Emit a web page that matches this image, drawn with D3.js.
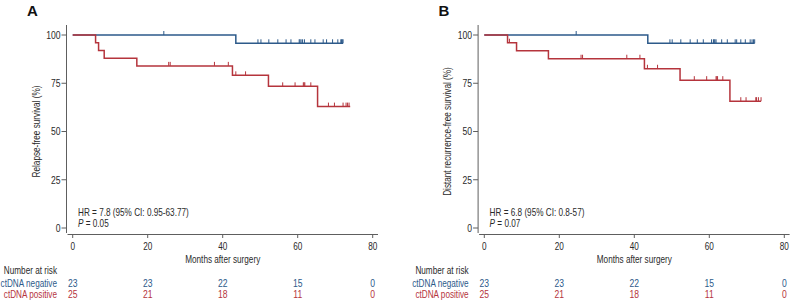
<!DOCTYPE html>
<html>
<head>
<meta charset="utf-8">
<script src="https://cdn.jsdelivr.net/npm/d3@7"></script>
<style>
  body { margin: 0; background: #fff; }
  text { font-family: "Liberation Sans Narrow", "Arial Narrow", "Liberation Sans", Arial, sans-serif; fill: #2a2a2a; }
</style>
</head>
<body>
<svg id="chart" width="791" height="300"></svg>
<script>
// ---- data ----
var monthTicks = [0, 20, 40, 60, 80];
var survTicks = [0, 25, 50, 75, 100];
var groups = ["ctDNA negative", "ctDNA positive"];

// number at risk (same table under both panels)
var riskTimes = [0, 20, 40, 60, 80];
var negRisk = [23, 23, 22, 15, 0];
var posRisk = [25, 21, 18, 11, 0];

// A: relapse-free survival, step points (month, %) and censor times
var rfsNegTime = [0, 43.5, 72.1];
var rfsNegSurv = [100, 95.7, 95.7];
var rfsNegCensor = [24.3, 49.4, 50.2, 52.3, 54.7, 56.9, 58.2, 60.4, 60.6, 60.9, 61.3, 61.8,
                    63.5, 64.6, 66.8, 67.7, 69.3, 70.7, 71.5, 71.7, 71.9, 72.1];
var rfsPosTime = [0, 6.1, 6.9, 8.4, 17.1, 42.6, 52.2, 65.3, 74.0];
var rfsPosSurv = [100, 96, 92, 88, 84, 79.1, 73.4, 62.9, 62.9];
var rfsPosCensor = [25.6, 26.0, 37.8, 41.5, 43.5, 46.1, 56.0, 59.3, 61.5, 61.7, 61.9, 63.5,
                    68.2, 69.8, 72.1, 72.9, 73.3, 73.7];

// B: distant recurrence-free survival
var drfsNegTime = [0, 43.6, 72.1];
var drfsNegSurv = [100, 95.7, 95.7];
var drfsNegCensor = [24.5, 49.5, 50.1, 52.4, 54.9, 56.8, 58.4, 60.6, 61.1, 61.3, 61.5, 61.8,
                     63.3, 64.8, 66.9, 67.3, 68.4, 69.6, 70.9, 71.4, 71.8, 72.1];
var drfsPosTime = [0, 6.2, 8.6, 17.1, 42.7, 52.2, 65.5, 73.8];
var drfsPosSurv = [100, 96, 91.8, 87.7, 82.5, 76.6, 65.7, 65.7];
var drfsPosCensor = [6.7, 25.8, 26.2, 38.0, 41.5, 43.5, 46.2, 56.0, 59.3, 61.8, 62.0, 62.2,
                     63.6, 68.4, 69.8, 72.4, 72.6, 73.1, 73.8];

var negColor = "#2d5a8a";
var posColor = "#b5343c";
var axisColor = "#5e5e5e";

var panels = [
  {letter: "A", dx: 0, ylabel: "Relapse-free survival (%)",
   hr: "HR = 7.8 (95% CI: 0.95-63.77)", p: " = 0.05",
   neg: [rfsNegTime, rfsNegSurv, rfsNegCensor], pos: [rfsPosTime, rfsPosSurv, rfsPosCensor]},
  {letter: "B", dx: 411.6, ylabel: "Distant recurrence-free survival (%)",
   hr: "HR = 6.8 (95% CI: 0.8-57)", p: " = 0.07",
   neg: [drfsNegTime, drfsNegSurv, drfsNegCensor], pos: [drfsPosTime, drfsPosSurv, drfsPosCensor]}
];

var svg = d3.select("#chart");

var x = d3.scaleLinear().domain([0, 80]).range([72.7, 372.7]);
var y = d3.scaleLinear().domain([0, 100]).range([228, 35]);
var yAxisX = 66.5;
var xAxisY = 234.5;
var squeeze = 0.78;   // the figure uses a condensed face; squash plain sans to match

var line = d3.line()
    .x(d => x(d[0]))
    .y(d => y(d[1]))
    .curve(d3.curveStepAfter);

// survival value at time t from the step points
function survAt(times, surv, t) {
  var i = d3.bisectRight(times, t) - 1;
  return surv[Math.max(0, i)];
}

// squash text horizontally around its own anchor point
function narrow(sel) {
  sel.each(function() {
    var el = d3.select(this);
    var tx = +el.attr("x") || 0, ty = +el.attr("y") || 0;
    var base = el.attr("transform") || "";
    el.attr("x", 0).attr("y", 0)
      .attr("transform", base + " translate(" + tx + "," + ty + ") scale(" + squeeze + ",1)");
  });
}

function drawCurve(g, series, color) {
  var times = series[0], surv = series[1], censor = series[2];
  var pts = times.map((t, i) => [t, surv[i]]);

  g.append("path")
    .attr("d", line(pts))
    .attr("fill", "none")
    .attr("stroke", color)
    .attr("stroke-width", 1.5);

  g.append("g").selectAll("line")
    .data(censor)
    .join("line")
      .attr("x1", d => x(d))
      .attr("x2", d => x(d))
      .attr("y1", d => y(survAt(times, surv, d)))
      .attr("y2", d => y(survAt(times, surv, d)) - 4)
      .attr("stroke", color)
      .attr("stroke-width", 1);
}

panels.forEach(function(p) {
  var g = svg.append("g").attr("transform", "translate(" + p.dx + ",0)");

  g.append("text")
    .attr("x", 27)
    .attr("y", 15.5)
    .style("font", "bold 15px 'Liberation Sans', Arial, sans-serif")
    .style("fill", "#111")
    .text(p.letter);

  // y axis
  g.append("line")
    .attr("x1", yAxisX).attr("x2", yAxisX)
    .attr("y1", 25).attr("y2", 233)
    .attr("stroke", axisColor);
  var yt = g.append("g").selectAll("g")
    .data(survTicks)
    .join("g")
      .attr("transform", d => "translate(0," + y(d) + ")");
  yt.append("line")
    .attr("x1", yAxisX - 5).attr("x2", yAxisX)
    .attr("stroke", axisColor);
  yt.append("text")
    .attr("class", "nar")
    .attr("x", yAxisX - 6)
    .attr("dy", "0.35em")
    .style("font-size", "11px")
    .style("text-anchor", "end")
    .text(d => d);

  g.append("text")
    .attr("class", "nar")
    .attr("transform", "translate(39.5," + (y(0) + y(100)) / 2 + ") rotate(-90)")
    .style("font-size", "10.5px")
    .style("text-anchor", "middle")
    .text(p.ylabel);

  // x axis
  g.append("line")
    .attr("x1", yAxisX + 1).attr("x2", 378)
    .attr("y1", xAxisY).attr("y2", xAxisY)
    .attr("stroke", axisColor);
  var xt = g.append("g").selectAll("g")
    .data(monthTicks)
    .join("g")
      .attr("transform", d => "translate(" + x(d) + ",0)");
  xt.append("line")
    .attr("y1", xAxisY).attr("y2", xAxisY + 3.5)
    .attr("stroke", axisColor);
  xt.append("text")
    .attr("class", "nar")
    .attr("y", 250)
    .style("font-size", "10.5px")
    .style("text-anchor", "middle")
    .text(d => d);

  g.append("text")
    .attr("class", "nar")
    .attr("x", x(40))
    .attr("y", 262.5)
    .style("font-size", "10.5px")
    .style("text-anchor", "middle")
    .text("Months after surgery");

  // curves
  drawCurve(g, p.neg, negColor);
  drawCurve(g, p.pos, posColor);

  // stats
  g.append("text")
    .attr("class", "nar")
    .attr("x", 78)
    .attr("y", 215.5)
    .style("font-size", "10.5px")
    .text(p.hr);
  var pt = g.append("text")
    .attr("class", "nar")
    .attr("x", 78)
    .attr("y", 226.5)
    .style("font-size", "10.5px");
  pt.append("tspan").style("font-style", "italic").text("P");
  pt.append("tspan").text(p.p);

  // number at risk
  g.append("text")
    .attr("class", "nar")
    .attr("x", 57)
    .attr("y", 274)
    .style("font-size", "10.5px")
    .style("text-anchor", "end")
    .text("Number at risk");

  [negRisk, posRisk].forEach(function(row, i) {
    var color = i == 0 ? negColor : posColor;
    var by = 286.5 + i * 11.5;
    g.append("text")
      .attr("class", "nar")
      .attr("x", 57)
      .attr("y", by)
      .style("font-size", "10.5px")
      .style("text-anchor", "end")
      .style("fill", color)
      .text(groups[i]);
    g.append("g").selectAll("text")
      .data(row)
      .join("text")
        .attr("class", "nar")
        .attr("x", (d, j) => x(riskTimes[j]))
        .attr("y", by)
        .style("font-size", "11px")
        .style("text-anchor", "middle")
        .style("fill", color)
        .text(d => d);
  });
});

narrow(svg.selectAll("text.nar"));
</script>
</body>
</html>
